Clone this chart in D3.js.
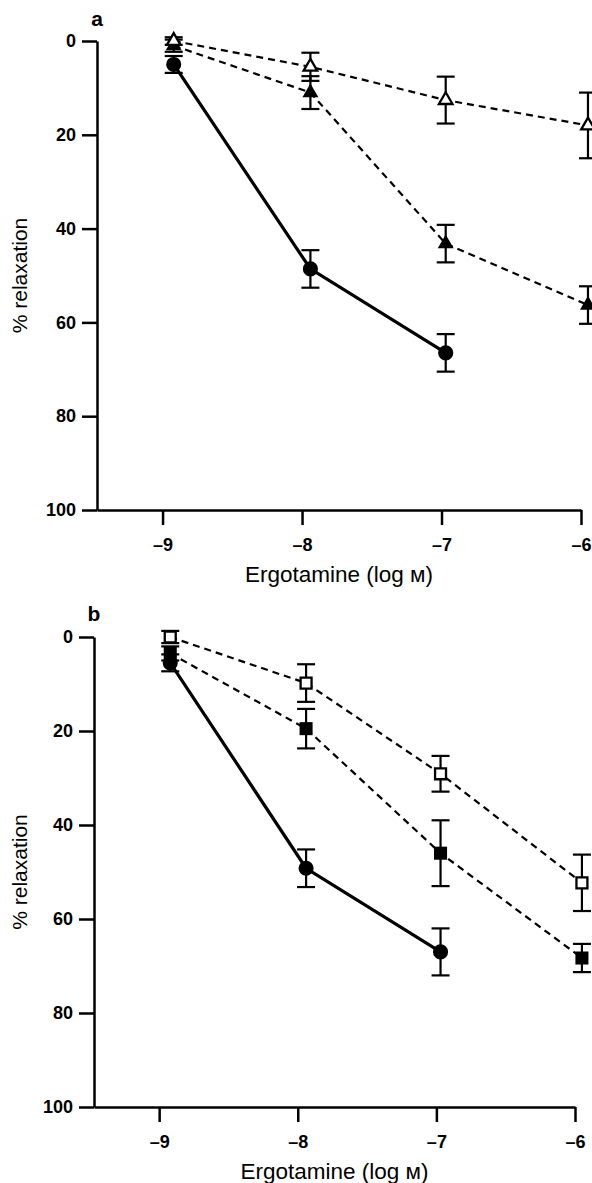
<!DOCTYPE html>
<html lang="en">
<head>
<meta charset="utf-8">
<title>Ergotamine relaxation</title>
<script src="https://d3js.org/d3.v7.min.js"></script>
<style>
  body { margin: 0; background: #fff; }
  text { font-family: "Liberation Sans", Arial, sans-serif; fill: #000; }
</style>
</head>
<body>
<script>
// dose positions as plotted (log M)
let doses = [-8.92, -7.94, -6.97, -5.95];
let xTicks = [-9, -8, -7, -6];
let yTicks = [0, 20, 40, 60, 80, 100];

// panel a
let aControl = [5, 48.6, 66.5];
let aControlErr = [1.8, 4, 4];
let aFilledTri = [1, 11, 43.2, 56.3];
let aFilledTriErr = [1.3, 3.5, 4, 4];
let aOpenTri = [0, 5.5, 12.6, 18];
let aOpenTriErr = [0.8, 3, 5, 7];

// panel b
let bControl = [5.5, 49.2, 67];
let bControlErr = [1.8, 4, 5];
let bFilledSq = [3.5, 19.5, 46, 68.3];
let bFilledSqErr = [1.5, 4.2, 7, 3];
let bOpenSq = [0, 9.8, 29.1, 52.3];
let bOpenSqErr = [1.3, 4, 3.8, 6];

let W = 592, H = 1183;

let svg = d3.select("body").append("svg")
  .attr("width", W)
  .attr("height", H);

function pack(vals, errs) {
  return vals.map(function (v, i) { return { x: doses[i], y: v, e: errs[i] }; });
}

function drawPanel(opt) {
  let g = svg.append("g").attr("transform", "translate(" + opt.left + "," + opt.top + ")");

  let x = d3.scaleLinear().domain([-9.47, -6]).range([0, opt.w]);
  let y = d3.scaleLinear().domain([0, 100]).range([0, opt.h]);

  // axes
  let yAxis = d3.axisLeft(y).tickValues(yTicks).tickSize(15).tickSizeOuter(0).tickPadding(6);
  let xAxis = d3.axisBottom(x).tickValues(xTicks).tickSize(15).tickSizeOuter(0).tickPadding(13)
    .tickFormat(function (d) { return "\u2013" + Math.abs(d); });

  let ya = g.append("g").call(yAxis);
  let xa = g.append("g").attr("transform", "translate(0," + opt.h + ")").call(xAxis);
  [ya, xa].forEach(function (a) {
    a.selectAll("path, line").attr("stroke", "#000").attr("stroke-width", 2.5);
    a.selectAll("text").attr("font-size", 18).attr("font-weight", "bold")
      .attr("font-family", "'Liberation Sans', Arial, sans-serif");
  });

  // panel letter
  g.append("text").attr("x", 0).attr("y", opt.letterY)
    .attr("text-anchor", "middle").attr("font-size", 21).attr("font-weight", "bold")
    .text(opt.letter);

  // axis titles
  g.append("text")
    .attr("x", opt.w / 2).attr("y", opt.h + 72)
    .attr("text-anchor", "middle").attr("font-size", 22.5)
    .text("Ergotamine (log \u043c)");
  g.append("text")
    .attr("transform", "translate(" + (-opt.left + 27) + "," + (opt.h / 2) + ") rotate(-90)")
    .attr("text-anchor", "middle").attr("font-size", 21)
    .text("% relaxation");

  let line = d3.line().x(function (d) { return x(d.x); }).y(function (d) { return y(d.y); });

  // lines
  opt.series.forEach(function (s) {
    g.append("path").datum(s.data)
      .attr("d", line)
      .attr("fill", "none")
      .attr("stroke", "#000")
      .attr("stroke-width", s.dashed ? 2.2 : 3.2)
      .attr("stroke-dasharray", s.dashed ? "7,5" : null);
  });

  // error bars
  opt.series.forEach(function (s) {
    let eb = g.append("g").selectAll("g").data(s.data).enter().append("g")
      .attr("stroke", "#000").attr("stroke-width", 2.2);
    eb.append("line")
      .attr("x1", function (d) { return x(d.x); }).attr("x2", function (d) { return x(d.x); })
      .attr("y1", function (d) { return y(d.y - d.e); }).attr("y2", function (d) { return y(d.y + d.e); });
    [-1, 1].forEach(function (sign) {
      eb.append("line")
        .attr("x1", function (d) { return x(d.x) - 9; }).attr("x2", function (d) { return x(d.x) + 9; })
        .attr("y1", function (d) { return y(d.y + sign * d.e); })
        .attr("y2", function (d) { return y(d.y + sign * d.e); });
    });
  });

  // markers
  opt.series.forEach(function (s) {
    let sym = d3.symbol().type(s.shape).size(s.size);
    g.append("g").selectAll("path").data(s.data).enter().append("path")
      .attr("transform", function (d) { return "translate(" + x(d.x) + "," + y(d.y) + ")"; })
      .attr("d", sym)
      .attr("fill", s.open ? "#fff" : "#000")
      .attr("stroke", "#000")
      .attr("stroke-width", s.open ? 2.3 : 0);
  });
}

drawPanel({
  left: 97, top: 41, w: 484, h: 469, letter: "a", letterY: -15,
  series: [
    { data: pack(aFilledTri, aFilledTriErr), dashed: true, shape: d3.symbolTriangle, size: 110, open: false },
    { data: pack(aOpenTri, aOpenTriErr), dashed: true, shape: d3.symbolTriangle, size: 80, open: true },
    { data: pack(aControl, aControlErr), dashed: false, shape: d3.symbolCircle, size: 180, open: false }
  ]
});

drawPanel({
  left: 94, top: 637, w: 481, h: 470, letter: "b", letterY: -16,
  series: [
    { data: pack(bFilledSq, bFilledSqErr), dashed: true, shape: d3.symbolSquare, size: 170, open: false },
    { data: pack(bControl, bControlErr), dashed: false, shape: d3.symbolCircle, size: 180, open: false },
    { data: pack(bOpenSq, bOpenSqErr), dashed: true, shape: d3.symbolSquare, size: 120, open: true }
  ]
});
</script>
</body>
</html>
